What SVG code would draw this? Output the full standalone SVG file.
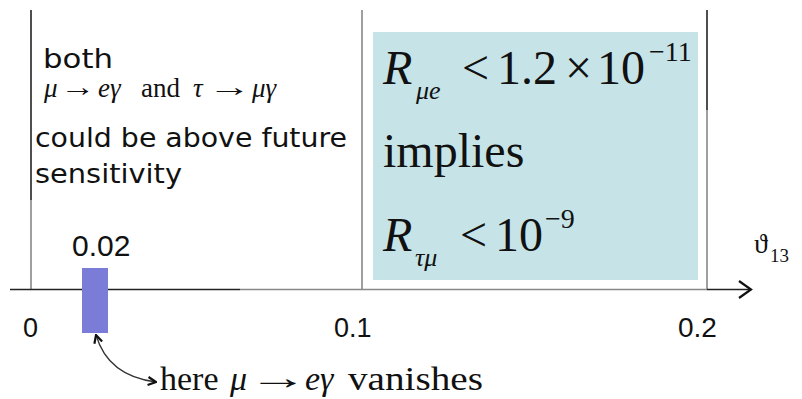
<svg xmlns="http://www.w3.org/2000/svg" width="802" height="399" viewBox="0 0 802 399">
<defs>
<style>
.serif{font-family:"Liberation Serif","DejaVu Serif",serif;fill:#111}
.it{font-style:italic}
.arrow{font-family:"Liberation Serif","DejaVu Serif",serif;fill:#111;text-anchor:middle}
.sans{font-family:"Liberation Sans",Arial,sans-serif;fill:#111}
.comic{font-family:"DejaVu Sans","Noto Sans",sans-serif;fill:#111}
.dark{stroke:#222;stroke-width:1.6;fill:none}
.grey{stroke:#888;stroke-width:1.6;fill:none}
</style>
<marker id="chev" viewBox="0 0 10 10" refX="9" refY="5" markerWidth="10" markerHeight="10" markerUnits="userSpaceOnUse" orient="auto-start-reverse">
<path d="M1,1 L9,5 L1,9" fill="none" stroke="#111" stroke-width="2.2"/>
</marker>
</defs>
<rect width="802" height="399" fill="#fff"/>

<g id="box">
<rect x="373" y="32" width="325" height="248" fill="#c6e4e8"/>
</g>

<g id="connectors">
<path class="dark" d="M31,10 V200"/>
<path class="grey" d="M31,200 V289"/>
<path class="grey" d="M362,10 V289"/>
<path class="dark" d="M707,10 V110"/>
<path class="grey" d="M707,110 V289"/>
<path class="dark" d="M10,289.5 H240"/>
<path class="grey" d="M240,289.5 H707"/>
<path class="dark" d="M707,289.5 H750"/>
<path d="M739,281 L751,289.5 L739,298" fill="none" stroke="#111" stroke-width="2.2"/>
<path d="M96,335 Q108,376 156,382" fill="none" stroke="#333" stroke-width="1.3" marker-start="url(#chev)" marker-end="url(#chev)"/>
</g>

<g id="bar">
<rect x="82" y="268" width="26" height="65" fill="#7b7bd8"/>
</g>

<g id="left-text">
<text class="comic" x="43" y="68" font-size="26" textLength="70" lengthAdjust="spacingAndGlyphs">both</text>
<text class="serif" y="97" font-size="27"><tspan class="it" x="44">μ</tspan><tspan class="it" x="98">eγ</tspan><tspan x="141">and</tspan><tspan class="it" x="193">τ</tspan><tspan class="it" x="252">μγ</tspan></text>
<text class="arrow" transform="translate(78,96) scale(1.3,1)" font-size="27">→</text>
<text class="arrow" transform="translate(229,96) scale(1.6,1)" font-size="27">→</text>
<text class="comic" x="35" y="147" font-size="26" textLength="312" lengthAdjust="spacingAndGlyphs">could be above future</text>
<text class="comic" x="35" y="183" font-size="26" textLength="147" lengthAdjust="spacingAndGlyphs">sensitivity</text>
</g>

<g id="right-text">
<text class="serif" y="84" font-size="48"><tspan class="it" x="383">R</tspan><tspan x="462">&lt;</tspan><tspan x="497">1.2</tspan><tspan x="565">×</tspan><tspan x="597">10</tspan></text>
<text class="serif it" x="416" y="99" font-size="26">μe</text>
<text class="serif" x="649" y="61" font-size="28">−11</text>
<text class="serif" x="383" y="167" font-size="48">implies</text>
<text class="serif" y="251" font-size="48"><tspan class="it" x="383">R</tspan><tspan x="460">&lt;</tspan><tspan x="495">10</tspan></text>
<text class="serif it" x="415" y="266" font-size="26">τμ</text>
<text class="serif" x="545" y="228" font-size="28">−9</text>
</g>

<g id="axis-labels">
<text class="sans" x="72" y="256" font-size="30">0.02</text>
<text class="sans" x="23" y="337" font-size="27">0</text>
<text class="sans" x="334" y="337" font-size="27">0.1</text>
<text class="sans" x="678" y="337" font-size="28">0.2</text>
<text class="serif" x="754" y="253" font-size="28">ϑ</text>
<text class="serif" x="770" y="262" font-size="19">13</text>
</g>

<g id="bottom-text">
<text class="serif" y="390" font-size="34"><tspan x="160">here</tspan><tspan class="it" x="230">μ</tspan><tspan class="it" x="305">eγ</tspan></text>
<text class="arrow" transform="translate(278,389) scale(1.75,1)" font-size="34">→</text>
<text class="serif" x="348" y="390" font-size="34" textLength="135" lengthAdjust="spacingAndGlyphs">vanishes</text>
</g>
</svg>
